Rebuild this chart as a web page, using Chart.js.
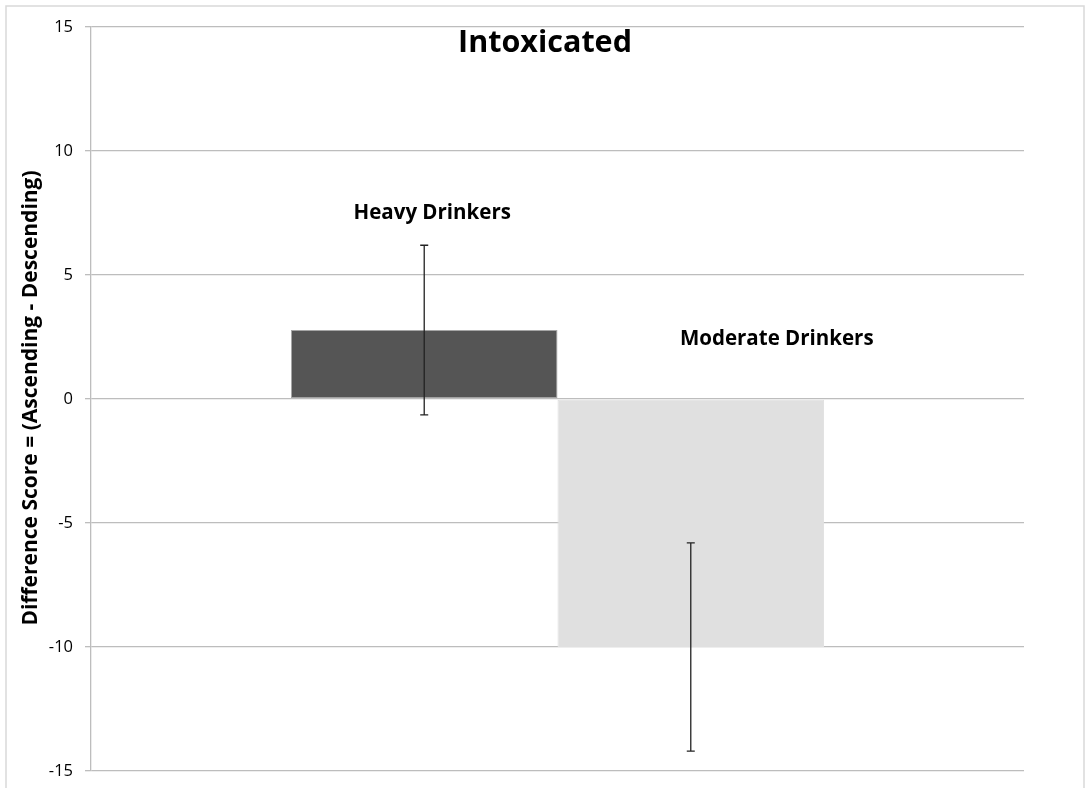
<!DOCTYPE html>
<html>
<head>
<meta charset="utf-8">
<script src="https://cdn.jsdelivr.net/npm/chart.js@4"></script>
<style>
  html, body { margin: 0; padding: 0; background: #fff; }
  #wrap { width: 1085px; height: 788px; }
</style>
</head>
<body>
<div id="wrap"><canvas id="intoxChart" width="1085" height="788"></canvas></div>
<script>
// data
var groups = ['Heavy Drinkers', 'Moderate Drinkers'];
var means = [2.78, -10.0];
var errors = [3.42, 4.2];
var barColors = ['#555555', '#e0e0e0'];
var yTicks = [-15, -10, -5, 0, 5, 10, 15];

var FONT = '"Open Sans", "Noto Sans", sans-serif';

// custom drawing: frame, title, axis title, error bars, group labels
var extras = {
    id: 'extras',
    beforeDraw: function(chart) {
        var c = chart.ctx;
        c.save();
        c.strokeStyle = '#d9d9d9';
        c.lineWidth = 1.5;
        c.strokeRect(6, 6, 1078, 800);
        c.restore();
    },
    afterDatasetsDraw: function(chart) {
        var c = chart.ctx;
        var y = chart.scales.y;
        c.save();
        c.strokeStyle = '#222';
        c.lineWidth = 1.3;
        chart.data.datasets.forEach(function(ds, i) {
            var bar = chart.getDatasetMeta(i).data[0];
            var top = y.getPixelForValue(means[i] + errors[i]);
            var bot = y.getPixelForValue(means[i] - errors[i]);
            c.beginPath();
            c.moveTo(bar.x, top); c.lineTo(bar.x, bot);
            c.moveTo(bar.x - 4, top); c.lineTo(bar.x + 4, top);
            c.moveTo(bar.x - 4, bot); c.lineTo(bar.x + 4, bot);
            c.stroke();
        });
        c.restore();
    },
    afterDraw: function(chart) {
        var c = chart.ctx;
        var y = chart.scales.y;
        c.save();
        c.fillStyle = '#000';
        c.textAlign = 'center';
        c.textBaseline = 'middle';
        c.font = 'bold 30.5px ' + FONT;
        c.fillText('Intoxicated', 545, 43);

        c.font = 'bold 20.5px ' + FONT;
        var b0 = chart.getDatasetMeta(0).data[0];
        var b1 = chart.getDatasetMeta(1).data[0];
        c.fillText(groups[0], b0.x + 8, y.getPixelForValue(7.5));
        c.fillText(groups[1], b1.x + 86, y.getPixelForValue(2.4));

        c.translate(31, 398);
        c.rotate(-Math.PI / 2);
        c.font = 'bold 21px ' + FONT;
        c.fillText('Difference Score = (Ascending - Descending)', 0, 0);
        c.restore();
    }
};

var ctx = document.getElementById('intoxChart').getContext('2d');
var chart = new Chart(ctx, {
    type: 'bar',
    data: {
        labels: [''],
        datasets: groups.map(function(g, i) {
            return {
                label: g,
                data: [means[i]],
                backgroundColor: barColors[i],
                borderColor: i === 0 ? '#a6a6a6' : barColors[i],
                borderWidth: 1,
                borderSkipped: false,
                categoryPercentage: 0.5714,
                barPercentage: 1.0
            };
        })
    },
    options: {
        responsive: false,
        animation: false,
        layout: { padding: { top: 27, bottom: 17, right: 61, left: 0 } },
        plugins: {
            legend: { display: false },
            title: { display: false },
            tooltip: { enabled: false }
        },
        scales: {
            x: {
                display: false,
                grid: { display: false }
            },
            y: {
                min: -15,
                max: 15,
                afterBuildTicks: function(axis) {
                    axis.ticks = yTicks.map(function(v) { return { value: v }; });
                },
                afterFit: function(axis) {
                    axis.width = 91;
                    axis.paddingTop = 0;
                    axis.paddingBottom = 0;
                },
                ticks: {
                    color: '#000',
                    font: { family: FONT, size: 16.5 },
                    padding: 12
                },
                grid: {
                    color: '#bdbdbd',
                    lineWidth: 1.3,
                    tickLength: 6
                },
                border: { color: '#bdbdbd', width: 1.3 }
            }
        }
    },
    plugins: [extras]
});
</script>
</body>
</html>
